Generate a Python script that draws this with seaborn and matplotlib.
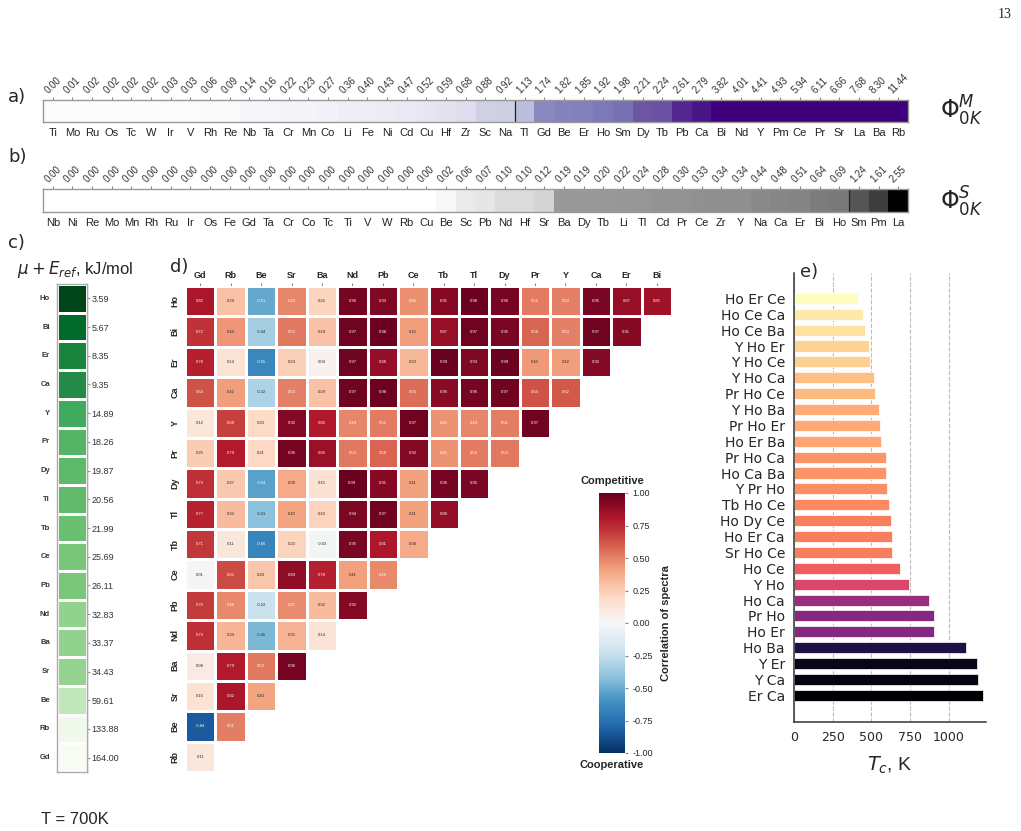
import numpy as np
import pandas as pd
import seaborn as sns
import matplotlib
matplotlib.use('Agg')
import matplotlib.pyplot as plt
from matplotlib.colors import LogNorm, Normalize, LinearSegmentedColormap

# ---------------- data ----------------
# a) Phi_0K^M
m_elems = ['Ti', 'Mo', 'Ru', 'Os', 'Tc', 'W', 'Ir', 'V', 'Rh', 'Re', 'Nb', 'Ta', 'Cr', 'Mn', 'Co',
           'Li', 'Fe', 'Ni', 'Cd', 'Cu', 'Hf', 'Zr', 'Sc', 'Na', 'Tl', 'Gd', 'Be', 'Er', 'Ho', 'Sm',
           'Dy', 'Tb', 'Pb', 'Ca', 'Bi', 'Nd', 'Y', 'Pm', 'Ce', 'Pr', 'Sr', 'La', 'Ba', 'Rb']
m_vals = [0.00, 0.01, 0.02, 0.02, 0.02, 0.02, 0.03, 0.03, 0.06, 0.09, 0.14, 0.16, 0.22, 0.23, 0.27,
          0.36, 0.40, 0.43, 0.47, 0.52, 0.59, 0.68, 0.88, 0.92, 1.13, 1.74, 1.82, 1.85, 1.92, 1.98,
          2.21, 2.24, 2.61, 2.79, 3.82, 4.01, 4.41, 4.93, 5.94, 6.11, 6.66, 7.68, 8.30, 11.44]

# b) Phi_0K^S
s_elems = ['Nb', 'Ni', 'Re', 'Mo', 'Mn', 'Rh', 'Ru', 'Ir', 'Os', 'Fe', 'Gd', 'Ta', 'Cr', 'Co', 'Tc',
           'Ti', 'V', 'W', 'Rb', 'Cu', 'Be', 'Sc', 'Pb', 'Nd', 'Hf', 'Sr', 'Ba', 'Dy', 'Tb', 'Li',
           'Tl', 'Cd', 'Pr', 'Ce', 'Zr', 'Y', 'Na', 'Ca', 'Er', 'Bi', 'Ho', 'Sm', 'Pm', 'La']
s_vals = [0.00] * 20 + [0.02, 0.06, 0.07, 0.10, 0.10, 0.12, 0.19, 0.19, 0.20, 0.22,
                        0.24, 0.28, 0.30, 0.33, 0.34, 0.34, 0.44, 0.48, 0.51, 0.64,
                        0.69, 1.24, 1.61, 2.55]

# c) mu + E_ref at 700 K
mu_elems = ['Ho', 'Bi', 'Er', 'Ca', 'Y', 'Pr', 'Dy', 'Tl', 'Tb', 'Ce', 'Pb', 'Nd', 'Ba', 'Sr',
            'Be', 'Rb', 'Gd']
mu_vals = [3.59, 5.67, 8.35, 9.35, 14.89, 18.26, 19.87, 20.56, 21.99, 25.69, 26.11, 32.83,
           33.37, 34.43, 59.61, 133.88, 164.00]

# d) correlation of spectra (upper triangle, row by row)
corr_cols = ['Gd', 'Rb', 'Be', 'Sr', 'Ba', 'Nd', 'Pb', 'Ce', 'Tb', 'Tl', 'Dy', 'Pr', 'Y', 'Ca', 'Er', 'Bi']
corr_rows = ['Ho', 'Bi', 'Er', 'Ca', 'Y', 'Pr', 'Dy', 'Tl', 'Tb', 'Ce', 'Pb', 'Nd', 'Ba', 'Sr', 'Be', 'Rb']
corr_vals = [
    [0.82, 0.29, -0.51, 0.49, 0.22, 0.96, 0.93, 0.46, 0.91, 0.98, 0.96, 0.52, 0.50, 0.95, 0.87, 0.85],
    [0.72, 0.44, -0.34, 0.53, 0.29, 0.97, 0.98, 0.42, 0.87, 0.97, 0.95, 0.58, 0.50, 0.97, 0.91],
    [0.78, 0.14, -0.65, 0.24, 0.04, 0.97, 0.88, 0.33, 0.99, 0.93, 0.99, 0.43, 0.42, 0.92],
    [0.64, 0.42, -0.32, 0.50, 0.29, 0.97, 0.98, 0.56, 0.90, 0.96, 0.97, 0.64, 0.62],
    [0.12, 0.68, 0.20, 0.92, 0.80, 0.49, 0.52, 0.97, 0.45, 0.49, 0.51, 0.97],
    [0.25, 0.79, 0.21, 0.96, 0.86, 0.53, 0.58, 0.92, 0.45, 0.52, 0.53],
    [0.73, 0.27, -0.54, 0.38, 0.15, 0.99, 0.91, 0.41, 0.96, 0.95],
    [0.77, 0.32, -0.41, 0.40, 0.23, 0.94, 0.97, 0.41, 0.88],
    [0.71, 0.11, -0.66, 0.23, -0.03, 0.95, 0.81, 0.38],
    [0.01, 0.65, 0.28, 0.89, 0.78, 0.41, 0.48],
    [0.70, 0.48, -0.22, 0.47, 0.32, 0.92],
    [0.73, 0.34, -0.45, 0.35, 0.14],
    [0.08, 0.79, 0.53, 0.96],
    [0.15, 0.82, 0.40],
    [-0.84, 0.51],
    [0.11],
]

# e) critical temperatures
tc_labels = ['Ho Er Ce', 'Ho Ce Ca', 'Ho Ce Ba', 'Y Ho Er', 'Y Ho Ce', 'Y Ho Ca', 'Pr Ho Ce',
             'Y Ho Ba', 'Pr Ho Er', 'Ho Er Ba', 'Pr Ho Ca', 'Ho Ca Ba', 'Y Pr Ho', 'Tb Ho Ce',
             'Ho Dy Ce', 'Ho Er Ca', 'Sr Ho Ce', 'Ho Ce', 'Y Ho', 'Ho Ca', 'Pr Ho', 'Ho Er',
             'Ho Ba', 'Y Er', 'Y Ca', 'Er Ca']
tc_vals = [411, 446, 461, 487, 491, 519, 526, 550, 554, 565, 593, 593, 603, 612, 627, 631, 631,
           685, 741, 871, 903, 907, 1112, 1179, 1190, 1218]

# ---------------- figure ----------------
sns.set_style('white')
plt.rcParams['font.family'] = ['Liberation Sans', 'DejaVu Sans']

W, H = 1021, 831
fig = plt.figure(figsize=(W / 100, H / 100), dpi=100)


def px_axes(x0, y0, x1, y1):
    # axes from pixel box (top-left origin)
    return fig.add_axes([x0 / W, 1 - y1 / H, (x1 - x0) / W, (y1 - y0) / H])


def frame(ax, color='#999999', lw=1.0):
    for sp in ax.spines.values():
        sp.set_visible(True)
        sp.set_color(color)
        sp.set_linewidth(lw)


def strip(ax, elems, vals, cmap, norm, sep):
    df = pd.DataFrame([vals], columns=elems)
    sns.heatmap(df, ax=ax, cmap=cmap, norm=norm, cbar=False, xticklabels=True, yticklabels=False)
    pos = np.arange(len(elems)) + 0.5
    ax.set_xticks(pos)
    ax.set_xticklabels(elems, rotation=0, fontsize=8, color='#222222')
    ax.tick_params(axis='x', length=0, pad=4)
    top = ax.secondary_xaxis('top')
    top.set_xticks(pos)
    top.set_xticklabels([f'{v:.2f}' for v in vals], rotation=45, fontsize=7, color='#333333')
    top.tick_params(length=2, color='#888888', pad=1)
    top.spines['top'].set_visible(False)
    ax.axvline(sep, color='#222222', lw=0.9)
    frame(ax)


# a)
ax_a = px_axes(43, 100, 908, 122)
strip(ax_a, m_elems, m_vals, 'Purples', Normalize(0, 3.0), 24)
fig.text(962 / W, 1 - 111 / H, r'$\Phi^M_{0K}$', fontsize=17, ha='center', va='center')

# b)
gray_cmap = LinearSegmentedColormap.from_list(
    'phiS', [(0.0, (1, 1, 1)), (0.15 / 2.55, (0.79, 0.79, 0.79)),
             (0.15 / 2.55, (0.61, 0.61, 0.61)), (1.0, (0, 0, 0))])
ax_b = px_axes(43, 189, 908, 212)
strip(ax_b, s_elems, s_vals, gray_cmap, Normalize(0, 2.55), 41)
fig.text(962 / W, 1 - 202 / H, r'$\Phi^S_{0K}$', fontsize=17, ha='center', va='center')

# c)
ax_c = px_axes(57, 284, 87, 772)
dfc = pd.DataFrame({'mu': mu_vals}, index=mu_elems)
sns.heatmap(dfc, ax=ax_c, cmap='Greens_r', norm=LogNorm(min(mu_vals), max(mu_vals)), cbar=False,
            linewidths=1, linecolor='white', xticklabels=False, yticklabels=True)
ax_c.set_yticklabels(mu_elems, rotation=0, fontsize=5.5, fontweight='bold', color='#333333')
ax_c.tick_params(axis='y', length=0, pad=5)
right = ax_c.secondary_yaxis('right')
right.set_yticks(np.arange(len(mu_vals)) + 0.5)
right.set_yticklabels([f'{v:.2f}' for v in mu_vals], fontsize=6.5, color='#333333')
right.tick_params(length=2, color='#999999', pad=1)
frame(ax_c, '#aaaaaa')
fig.text(75 / W, 1 - 270 / H, r'$\mu + E_{ref}$, kJ/mol', fontsize=12, ha='center', va='center')
fig.text(75 / W, 1 - 819 / H, 'T = 700K', fontsize=12, ha='center', va='center')

# d)
n = len(corr_rows)
mat = np.full((n, len(corr_cols)), np.nan)
for i, row in enumerate(corr_vals):
    mat[i, :len(row)] = row
dfd = pd.DataFrame(mat, index=corr_rows, columns=corr_cols)
ax_d = px_axes(185, 286, 672, 772)
cax = px_axes(599, 493, 625, 753)
sns.heatmap(dfd, ax=ax_d, cmap='RdBu_r', vmin=-1, vmax=1, mask=dfd.isna(), annot=True, fmt='.2f',
            annot_kws={'size': 3}, linewidths=1, linecolor='white', cbar_ax=cax)
ax_d.xaxis.tick_top()
ax_d.set_xticklabels(corr_cols, rotation=0, fontsize=6.5, fontweight='bold')
ax_d.set_yticklabels(corr_rows, rotation=90, fontsize=6.5, fontweight='bold', va='center')
ax_d.tick_params(axis='both', length=2, color='#888888', pad=2)
cax.tick_params(labelsize=6.5, length=2, color='#888888')
cax.set_yticks([-1, -0.75, -0.5, -0.25, 0, 0.25, 0.5, 0.75, 1])
cax.set_yticklabels([f'{t:.2f}' for t in [-1, -0.75, -0.5, -0.25, 0, 0.25, 0.5, 0.75, 1]])
cax.set_ylabel('Correlation of spectra', fontsize=8, fontweight='bold', labelpad=6)
fig.text(612 / W, 1 - 481 / H, 'Competitive', fontsize=8, fontweight='bold', ha='center', va='center')
fig.text(612 / W, 1 - 765 / H, 'Cooperative', fontsize=8, fontweight='bold', ha='center', va='center')

# e)
ax_e = px_axes(794, 273, 986, 722)
sns.barplot(x=tc_vals, y=tc_labels, hue=tc_vals, palette='magma_r', dodge=False, legend=False,
            orient='h', width=0.7, saturation=1, edgecolor='white', linewidth=0.5, ax=ax_e)
ax_e.set_xlim(0, 1240)
ax_e.set_ylim(len(tc_vals) - 1 + 1.68, -1.6)
ax_e.set_xticks([0, 250, 500, 750, 1000])
ax_e.xaxis.grid(True, linestyle='--', color='#bbbbbb', lw=0.8)
ax_e.set_axisbelow(True)
sns.despine(ax=ax_e)
for sp in ['left', 'bottom']:
    ax_e.spines[sp].set_color('#333333')
    ax_e.spines[sp].set_linewidth(1.1)
ax_e.tick_params(axis='y', length=3, labelsize=10, color='#333333')
ax_e.tick_params(axis='x', length=3, labelsize=9, color='#333333')
for lbl in ax_e.get_yticklabels() + ax_e.get_xticklabels():
    lbl.set_fontfamily('DejaVu Sans')
ax_e.set_xlabel(r'$T_c$, K', fontsize=14, labelpad=8)
ax_e.set_ylabel('')

# panel letters and page number
for txt, x, y in [('a)', 8, 97), ('b)', 8, 157), ('c)', 8, 243), ('d)', 170, 267), ('e)', 800, 272)]:
    fig.text(x / W, 1 - y / H, txt, fontsize=13, ha='left', va='center', family='DejaVu Sans')
fig.text(1012 / W, 1 - 14 / H, '13', fontsize=10, ha='right', va='center', family='Liberation Serif')

fig.savefig('out.png', dpi=100)
